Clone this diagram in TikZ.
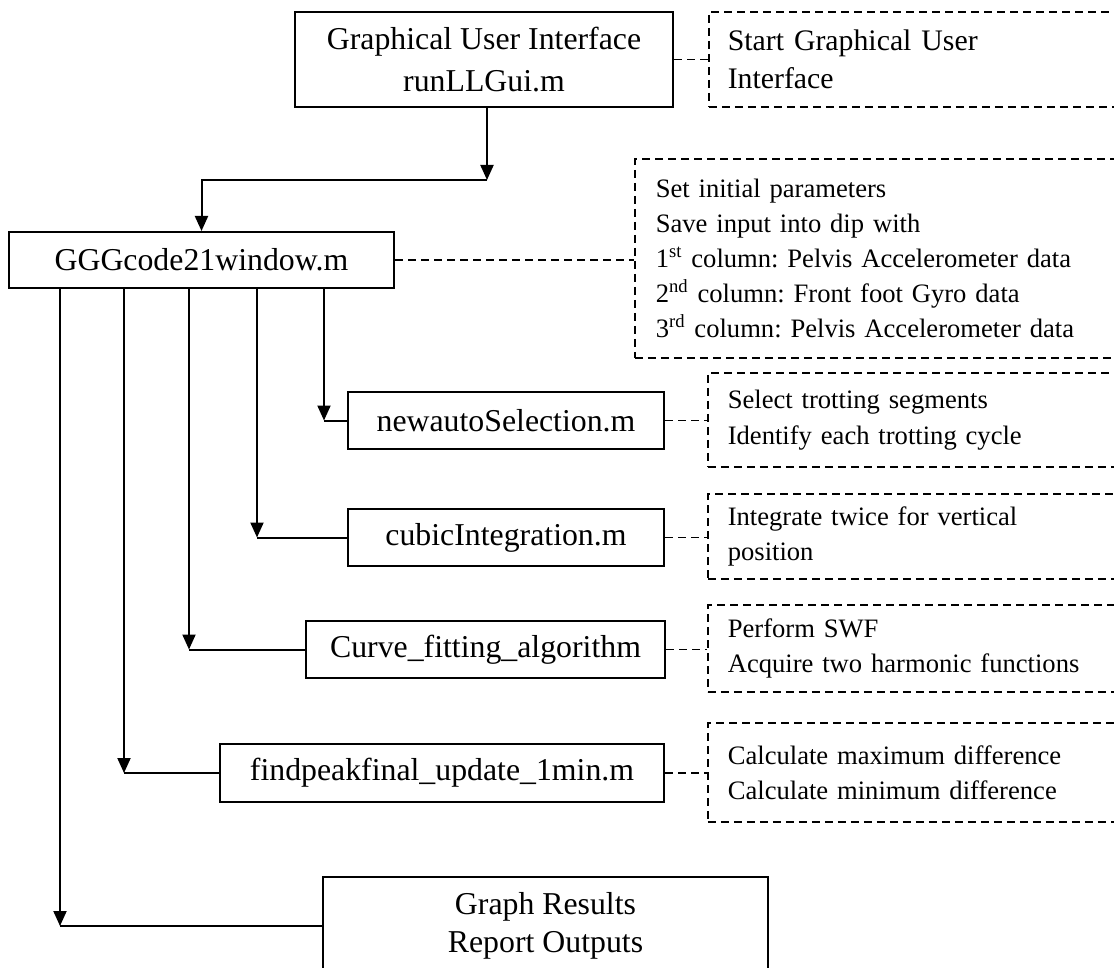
\documentclass[tikz,border=0pt]{standalone}
\usepackage{fontspec}
\setmainfont{Liberation Serif}
\usetikzlibrary{arrows.meta}
\frenchspacing
\newcommand{\boxfont}{\fontsize{15.9}{21}\selectfont}
\newcommand{\notefont}{\fontsize{13.3}{17.5}\selectfont}
\tikzset{
  x=0.5pt, y=-0.5pt,
  mainbox/.style={draw, line width=1pt, font=\boxfont, align=center, inner sep=0pt},
  notebox/.style={draw, dashed, dash pattern=on 4pt off 2.5pt, line width=0.8pt,
    font=\notefont, align=left, anchor=west, inner ysep=0pt, inner xsep=10pt, text width=196.5pt},
  link/.style={draw, dash pattern=on 4pt off 2.5pt, line width=0.8pt},
  conn/.style={draw, line width=1pt},
  arr/.style={draw, line width=1pt, -{Triangle[length=7.5pt,width=6.5pt]}}
}
\begin{document}
\begin{tikzpicture}
\useasboundingbox (0,0) rectangle (1114,968);
\clip (0,0) rectangle (1114,968);
% main boxes
\node[mainbox, minimum width=189pt, minimum height=47.5pt] (gui) at (484,59.5) {Graphical User Interface\\runLLGui.m};
\node[mainbox, minimum width=192.5pt, minimum height=28pt] (ggg) at (201.5,260) {GGGcode21window.m};
\node[mainbox, minimum width=158pt, minimum height=28.5pt] (newauto) at (506,420.5) {newautoSelection.m};
\node[mainbox, minimum width=158pt, minimum height=28.5pt] (cubic) at (506,537.5) {cubicIntegration.m};
\node[mainbox, minimum width=179.5pt, minimum height=28.5pt] (curve) at (485.5,649.5) {Curve\_fitting\_algorithm};
\node[mainbox, minimum width=222pt, minimum height=29pt] (peak) at (442,773) {findpeakfinal\_update\_1min.m};
\node[mainbox, minimum width=222.5pt, minimum height=49pt, font=\fontsize{15.9}{19}\selectfont] (graph) at (545.5,926) {Graph Results\\Report Outputs};
% note boxes
\node[notebox, minimum height=47.5pt, inner xsep=9.5pt, text width=197pt, font=\fontsize{14.9}{19}\selectfont] (start) at (708,59.5) {Start Graphical User\\Interface};
\node[notebox, minimum height=99.5pt, inner xsep=10.5pt, text width=232pt] (note1) at (634,258.5) {Set initial parameters\\Save input into dip with\\1\textsuperscript{st} column: Pelvis Accelerometer data\\2\textsuperscript{nd} column: Front foot Gyro data\\3\textsuperscript{rd} column: Pelvis Accelerometer data};
\node[notebox, minimum height=47pt, font=\fontsize{13.3}{18}\selectfont] (note2) at (707,420) {Select trotting segments\\Identify each trotting cycle};
\node[notebox, minimum height=42.5pt] (note3) at (707,536.5) {Integrate twice for vertical\\position};
\node[notebox, minimum height=43.5pt] (note4) at (707,648.5) {Perform SWF\\Acquire two harmonic functions};
\node[notebox, minimum height=49.5pt] (note5) at (707,772.5) {Calculate maximum difference\\Calculate minimum difference};
% dashed links
\draw[link] (gui.east) -- (start.west);
\draw[link] (ggg.east) -- (ggg.east -| note1.west);
\draw[link] (newauto.east) -- (newauto.east -| note2.west);
\draw[link] (cubic.east) -- (cubic.east -| note3.west);
\draw[link] (curve.east) -- (curve.east -| note4.west);
\draw[link] (peak.east) -- (peak.east -| note5.west);
% connectors
\coordinate (c1) at (487,180);
\draw[arr] (c1 |- gui.south) -- (c1);
\draw[arr] (c1) -| (ggg.north);
\coordinate (k1) at (324,0);
\coordinate (k2) at (257,0);
\coordinate (k3) at (189,0);
\coordinate (k4) at (124,0);
\coordinate (k5) at (60,0);
\draw[arr] (k1 |- ggg.south) -- (k1 |- newauto.west);
\draw[conn] (k1 |- newauto.west) -- (newauto.west);
\draw[arr] (k2 |- ggg.south) -- (k2 |- cubic.west);
\draw[conn] (k2 |- cubic.west) -- (cubic.west);
\draw[arr] (k3 |- ggg.south) -- (k3 |- curve.west);
\draw[conn] (k3 |- curve.west) -- (curve.west);
\draw[arr] (k4 |- ggg.south) -- (k4 |- peak.west);
\draw[conn] (k4 |- peak.west) -- (peak.west);
\draw[arr] (k5 |- ggg.south) -- (k5 |- graph.west);
\draw[conn] (k5 |- graph.west) -- (graph.west);
\end{tikzpicture}
\end{document}
